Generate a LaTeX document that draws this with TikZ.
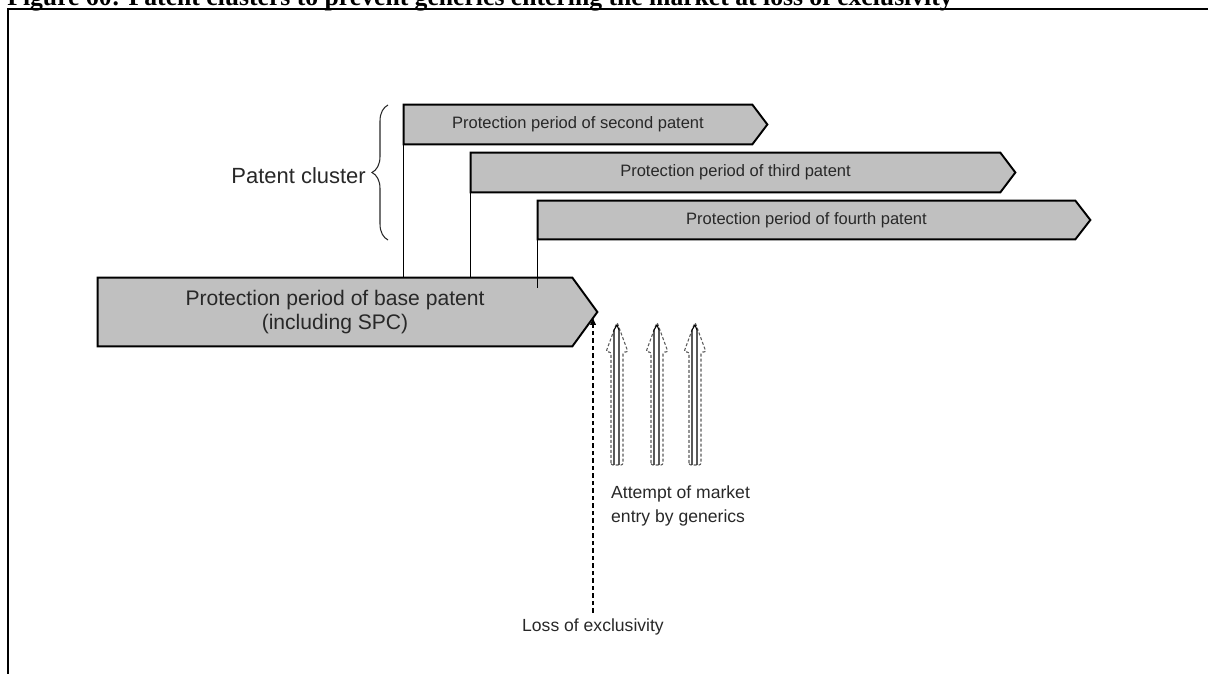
\documentclass[tikz,border=0pt]{standalone}
\usepackage{fontspec}
\setmainfont{Liberation Sans}
\newfontfamily\captionserif{Liberation Serif}
\usetikzlibrary{positioning, arrows.meta, calc, backgrounds, decorations.pathreplacing}
\definecolor{barfill}{RGB}{192,192,192}
\definecolor{labelgray}{RGB}{40,40,40}
\definecolor{ghostgray}{RGB}{90,90,90}
\tikzset{
  periodbox/.style={
    rectangle,
    inner sep=0pt,
    minimum height=7.8mm,
    font=\fontsize{9.4}{11}\selectfont,
    text=labelgray
  },
  basebox/.style={
    rectangle,
    inner sep=0pt,
    minimum height=13.6mm,
    align=center,
    font=\fontsize{12}{14}\selectfont,
    text=labelgray
  },
  outline/.style={
    draw=black,
    line width=1.1pt,
    fill=barfill,
    line join=miter
  },
  link/.style={
    draw=black,
    line width=0.6pt
  },
  note/.style={
    font=\fontsize{10}{13.5}\selectfont,
    text=labelgray
  },
  cluster brace/.style={
    decorate,
    decoration={brace, amplitude=3.2mm},
    draw=labelgray,
    line width=0.6pt
  },
  exclusivity/.style={
    draw=black,
    line width=0.7pt,
    dash pattern=on 0.9mm off 0.6mm,
    -{Latex[length=1.6mm, width=1.3mm]}
  },
  ghost/.style={
    draw=ghostgray,
    line width=0.6pt,
    dash pattern=on 0.6mm off 0.4mm,
    rounded corners=0.4mm
  },
  entry/.style={
    draw=black,
    line width=0.6pt
  }
}
\newcommand{\periodoutline}[2]{%
  \path[outline] (#1.north west) -- (#1.north east) -- ([xshift=#2]#1.east)
    -- (#1.south east) -- (#1.south west) -- cycle;}

\begin{document}
\begin{tikzpicture}[x=0.2mm, y=-0.2mm]
  \useasboundingbox (0,0) rectangle (1208,674);
  \begin{scope}
    \clip (0,0) rectangle (1208,674);
    \draw[line width=1.3pt] (8,9) rectangle (1230,700);
    \node[anchor=base west, inner sep=0pt, font=\captionserif\bfseries\fontsize{14.6}{17}\selectfont] (caption) at (7,5.5)
      {Figure 60: Patent clusters to prevent generics entering the market at loss of exclusivity};
  \end{scope}

  \node[basebox, minimum width=94.8mm] (base) at (335,312) {Protection period of base patent\\(including SPC)};
  \node[periodbox, minimum width=69.6mm] (second) at (578,124.5) {Protection period of second patent};
  \node[periodbox, minimum width=105.8mm] (third) at (735.5,172.5) {Protection period of third patent};
  \node[periodbox, minimum width=107.4mm, minimum height=7.6mm] (fourth) at (806.5,220) {Protection period of fourth patent};

  \begin{pgfonlayer}{background}
    \periodoutline{base}{5mm}
    \periodoutline{second}{3mm}
    \periodoutline{third}{3mm}
    \periodoutline{fourth}{3mm}
  \end{pgfonlayer}

  \draw[link] (second.south west) -- (second.south west |- base.north);
  \draw[link] (third.south west) -- (third.south west |- base.north);
  \draw[link] (fourth.south west) -- ([yshift=-2mm]fourth.south west |- base.north);

  \coordinate (cluster bottom) at (388,240);
  \coordinate (cluster top) at (388,105);
  \draw[cluster brace] (cluster bottom) -- (cluster top);
  \node[note, font=\fontsize{12.5}{14}\selectfont, anchor=east] (cluster) at (372,176) {Patent cluster};

  \coordinate (base tip) at ([xshift=5mm]base.east);
  \node[note] (loss) at (593,627) {Loss of exclusivity};
  \draw[exclusivity] (loss.north) -- ([yshift=-1mm]loss.north |- base tip);

  \foreach \gx in {617,657,695}{
    \draw[ghost] (\gx-6,465) -- (\gx-6,352) -- (\gx-11,352) -- (\gx,322) -- (\gx+11,352) -- (\gx+6,352) -- (\gx+6,465) -- cycle;
    \draw[entry] (\gx-3,465) -- (\gx-3,330) -- (\gx,325) -- (\gx+2,330) -- (\gx+2,465);
  }
  \node[note, anchor=north west, align=left] (attempt) at (605,480) {Attempt of market\\entry by generics};
\end{tikzpicture}
\end{document}
